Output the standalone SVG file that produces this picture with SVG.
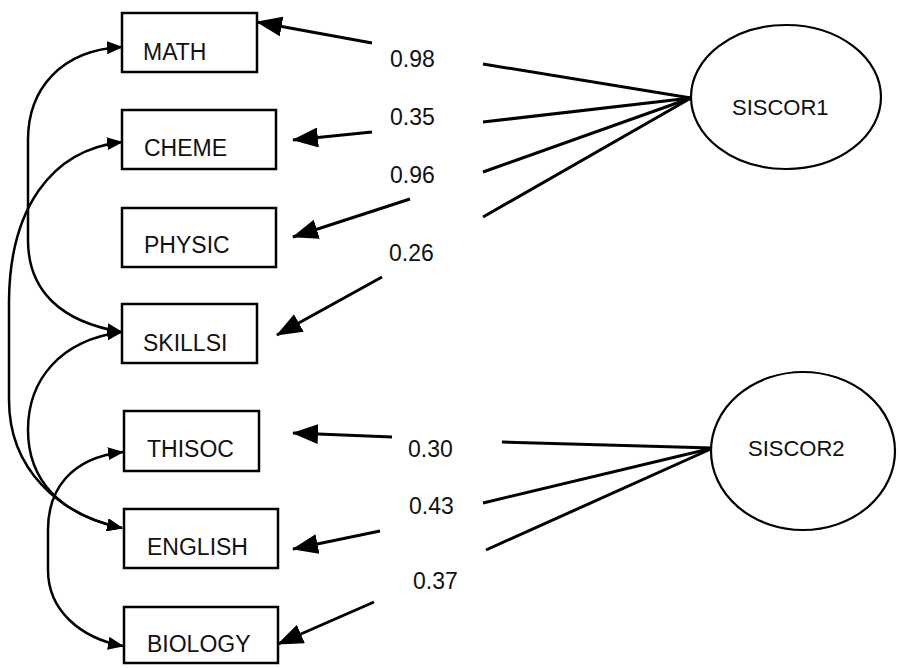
<svg xmlns="http://www.w3.org/2000/svg" width="906" height="668" viewBox="0 0 906 668">
<style>
.box{fill:#fff;stroke:#000;stroke-width:2.5}
.lat{fill:#fff;stroke:#000;stroke-width:2.2}
.t{font-family:"Liberation Sans",Arial,sans-serif;font-size:23px;fill:#111}
.lt{font-family:"Liberation Sans",Arial,sans-serif;font-size:22px;fill:#111}
.err{stroke:#000;stroke-width:3;fill:none;marker-end:url(#big)}
.cov{stroke:#000;stroke-width:2.5;fill:none;marker-start:url(#sm);marker-end:url(#sm)}
.load{stroke:#000;stroke-width:3;fill:none}
</style>
<defs>
<marker id="big" viewBox="0 0 26 20" refX="25" refY="10" markerWidth="26" markerHeight="20" markerUnits="userSpaceOnUse" orient="auto"><path d="M0,0 L26,10 L0,20 z" fill="#000"/></marker>
<marker id="sm" viewBox="0 0 16 13" refX="15" refY="6.5" markerWidth="16" markerHeight="13" markerUnits="userSpaceOnUse" orient="auto-start-reverse"><path d="M0,0 L16,6.5 L0,13 z" fill="#000"/></marker>
</defs>
<rect width="906" height="668" fill="#fff"/>
<g id="connectors">
<path class="err" d="M372,43 L257,22"/>
<path class="err" d="M372,132 L293,140"/>
<path class="err" d="M410,199 L293,237"/>
<path class="err" d="M382,277 L277,335"/>
<path class="err" d="M392,437 L293,433"/>
<path class="err" d="M380,531 L293,549"/>
<path class="err" d="M374,602 L278,644"/>
<path class="load" d="M483,64 L691,98"/>
<path class="load" d="M483,122 L691,98"/>
<path class="load" d="M483,172 L691,98"/>
<path class="load" d="M483,217 L691,98"/>
<path class="load" d="M502,442 L713,448"/>
<path class="load" d="M483,503 L713,448"/>
<path class="load" d="M486,550 L713,448"/>
<path class="cov" d="M122,47 C60,50 28,90 28,140 L28,240 C28,290 60,322 122,332"/>
<path class="cov" d="M122,142 C50,150 10,210 9,300 L9,400 C9,470 60,515 122,528"/>
<path class="cov" d="M122,332 C60,340 28,380 28,430 C28,480 60,515 122,528"/>
<path class="cov" d="M123,452 C70,458 48,490 48,530 L48,570 C48,610 80,638 123,646"/>
</g>
<g id="MATH"><rect class="box" x="122" y="13" width="135" height="59"/><text class="t" x="143" y="60">MATH</text></g>
<g id="CHEME"><rect class="box" x="122" y="110" width="154" height="59"/><text class="t" x="144" y="156">CHEME</text></g>
<g id="PHYSIC"><rect class="box" x="122" y="208" width="154" height="59"/><text class="t" x="144" y="253">PHYSIC</text></g>
<g id="SKILLSI"><rect class="box" x="122" y="304" width="135" height="59"/><text class="t" x="143" y="351">SKILLSI</text></g>
<g id="THISOC"><rect class="box" x="124" y="411" width="135" height="60"/><text class="t" x="147" y="457">THISOC</text></g>
<g id="ENGLISH"><rect class="box" x="124" y="509" width="154" height="59"/><text class="t" x="147" y="555">ENGLISH</text></g>
<g id="BIOLOGY"><rect class="box" x="124" y="607" width="154" height="56"/><text class="t" x="147" y="652">BIOLOGY</text></g>
<g id="SISCOR1"><ellipse class="lat" cx="786" cy="97" rx="95" ry="72"/><text class="lt" x="732" y="115">SISCOR1</text></g>
<g id="SISCOR2"><ellipse class="lat" cx="803" cy="451" rx="92" ry="79"/><text class="lt" x="748" y="456">SISCOR2</text></g>
<g id="labels">
<text class="t" x="390" y="67">0.98</text>
<text class="t" x="390" y="125">0.35</text>
<text class="t" x="390" y="183">0.96</text>
<text class="t" x="389" y="261">0.26</text>
<text class="t" x="408" y="457">0.30</text>
<text class="t" x="409" y="514">0.43</text>
<text class="t" x="413" y="589">0.37</text>
</g>
</svg>
